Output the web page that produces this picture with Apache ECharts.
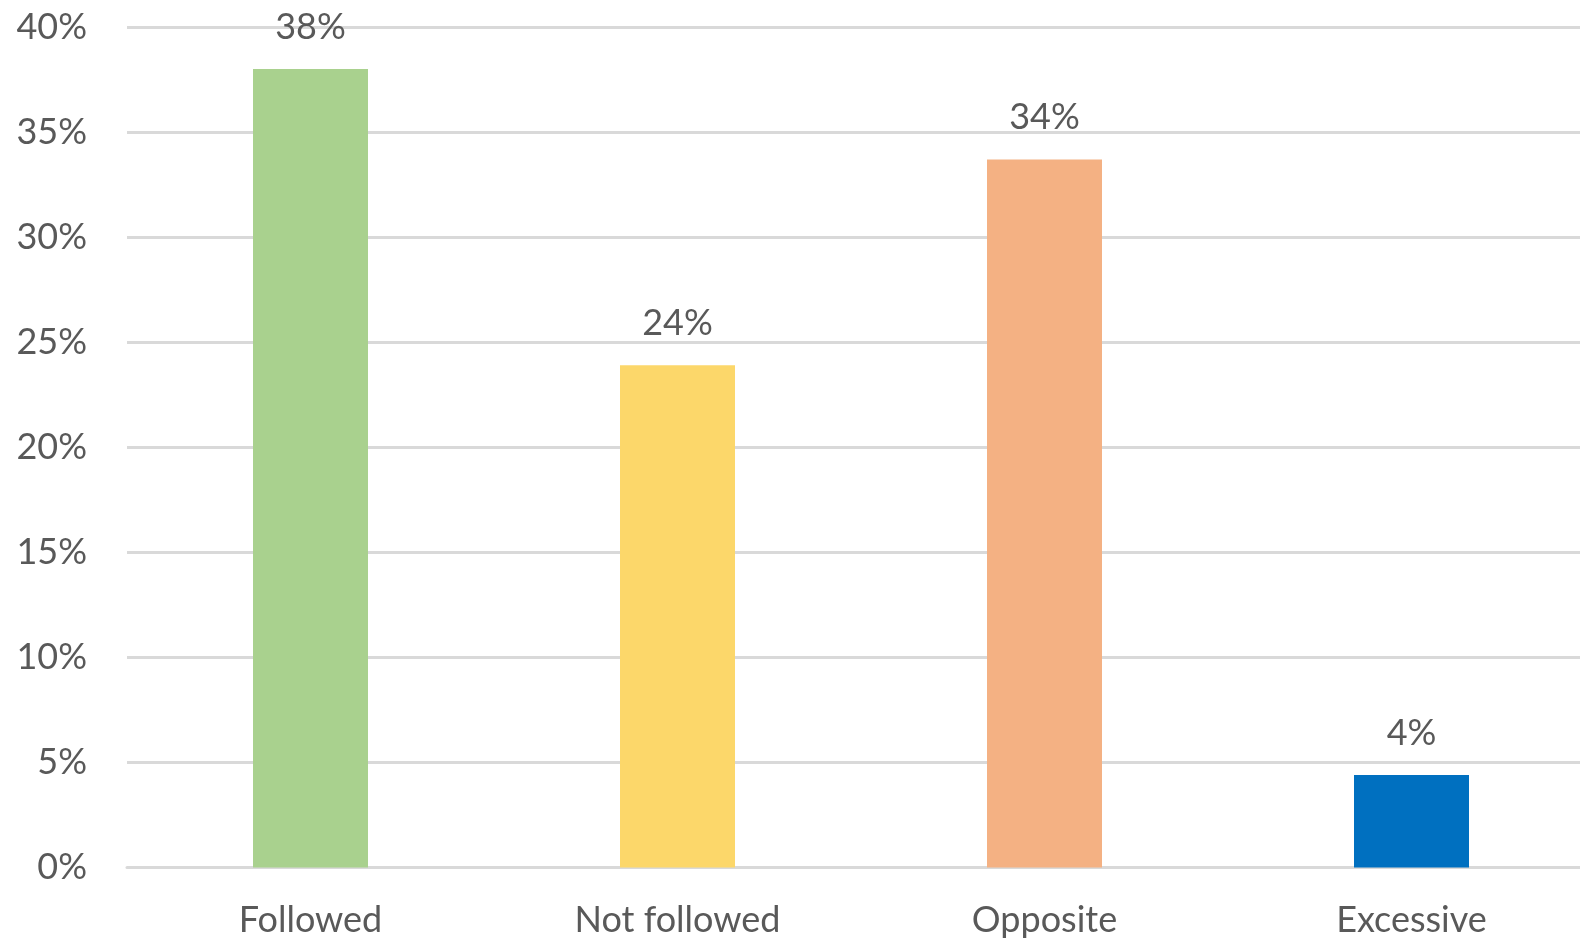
<!DOCTYPE html>
<html>
<head>
<meta charset="utf-8">
<script src="https://cdn.jsdelivr.net/npm/echarts@6/dist/echarts.min.js"></script>
<style>
  html, body { margin: 0; padding: 0; background: #ffffff; }
  #chart { width: 1580px; height: 941px; }
</style>
</head>
<body>
<div id="chart"></div>
<script>
// Share of responses per category (percent)
const categories = ['Followed', 'Not followed', 'Opposite', 'Excessive'];
const shares = [38.0, 23.9, 33.7, 4.4];
const barColors = ['#A9D18E', '#FCD76A', '#F4B183', '#0070C0'];
const yTicks = [0, 5, 10, 15, 20, 25, 30, 35, 40];

const textColor = '#595959';
const fontFamily = 'Lato, "Open Sans", sans-serif';

const chart = echarts.init(document.getElementById('chart'));
chart.setOption({
  animation: false,
  backgroundColor: '#ffffff',
  // plot area runs a little past the right edge of the canvas
  grid: {
    left: 127, top: 27, bottom: 73.5, right: -15,
    containLabel: false,
    outerBoundsMode: 'none'
  },
  xAxis: {
    type: 'category',
    data: categories,
    axisTick: { show: false },
    axisLine: { show: true, lineStyle: { color: '#d9d9d9', width: 3 } },
    axisLabel: { color: textColor, fontFamily, fontSize: 36, margin: 35 }
  },
  yAxis: {
    type: 'value',
    min: yTicks[0],
    max: yTicks[yTicks.length - 1],
    interval: yTicks[1] - yTicks[0],
    axisLine: { show: false },
    axisTick: { show: false },
    splitLine: { lineStyle: { color: '#d9d9d9', width: 3 } },
    axisLabel: {
      color: textColor, fontFamily, fontSize: 36, margin: 40,
      formatter: v => v + '%'
    }
  },
  series: [{
    type: 'bar',
    barWidth: 115,
    data: shares.map((v, i) => ({ value: v, itemStyle: { color: barColors[i] } })),
    label: {
      show: true,
      position: 'top',
      distance: 24,
      color: textColor,
      fontFamily,
      fontSize: 36,
      formatter: p => Math.round(p.value) + '%'
    }
  }]
});
</script>
</body>
</html>
